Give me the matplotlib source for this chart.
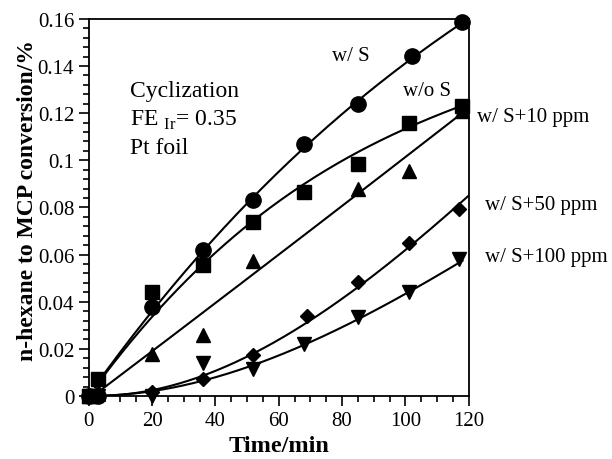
import numpy as np
import matplotlib
matplotlib.use("Agg")
import matplotlib.pyplot as plt
from matplotlib.ticker import MultipleLocator, FuncFormatter

plt.rcParams['font.family'] = ['Liberation Serif', 'DejaVu Serif']
plt.rcParams['mathtext.fontset'] = 'custom'
plt.rcParams['mathtext.rm'] = 'Liberation Serif'

# ---- data (markers) ----
t_ws = [0, 3, 20, 36, 52, 68, 85, 102, 118]
y_ws = [0, 0, 0.0376, 0.0621, 0.0833, 0.107, 0.124, 0.1442, 0.1586]

t_wos = [0, 3, 20, 36, 52, 68, 85, 101, 118]
y_wos = [0, 0.0072, 0.0443, 0.0556, 0.074, 0.0867, 0.0985, 0.1157, 0.1232]

t_10 = [0, 3, 20, 36, 52, 85, 101, 118]
y_10 = [0, 0.002, 0.0178, 0.0259, 0.0574, 0.0879, 0.0956, 0.121]

t_50 = [0, 3, 20, 36, 52, 69, 85, 101, 117]
y_50 = [0, 0, 0.0018, 0.0072, 0.0174, 0.0341, 0.0482, 0.0648, 0.0794]

t_100 = [0, 3, 20, 36, 52, 68, 85, 101, 117]
y_100 = [0, 0, 0, 0.014, 0.0115, 0.0221, 0.0334, 0.0443, 0.0581]

# ---- fitted curves ----
ct_ws = [2, 20, 36, 52, 68, 85, 101, 118]
cy_ws = [0.004, 0.036, 0.062, 0.084, 0.105, 0.125, 0.143, 0.158]
ct_wos = [2, 20, 36, 52, 68, 85, 101, 118]
cy_wos = [0.003, 0.035, 0.056, 0.073, 0.090, 0.103, 0.1155, 0.1225]
ct_10 = [4, 20, 52, 85, 118]
cy_10 = [0.003, 0.0185, 0.0518, 0.086, 0.120]
ct_50 = [0, 20, 36, 52, 68, 85, 101, 120]
cy_50 = [0, 0.003, 0.0086, 0.0171, 0.031, 0.0462, 0.063, 0.085]
ct_100 = [0, 20, 36, 52, 68, 85, 101, 118]
cy_100 = [0, 0.002, 0.0072, 0.0123, 0.0214, 0.0334, 0.0437, 0.0574]

fig = plt.figure(figsize=(6.12, 4.6), dpi=100)
ax = fig.add_axes([0.145, 0.137, 0.621, 0.820])

def smooth(tc, yc, deg):
    p = np.polyfit(tc, yc, deg)
    tt = np.linspace(min(tc), max(tc), 200)
    return tt, np.polyval(p, tt)

for tc, yc, deg in [(ct_ws, cy_ws, 3), (ct_wos, cy_wos, 3), (ct_10, cy_10, 2),
                    (ct_50, cy_50, 3), (ct_100, cy_100, 3)]:
    tt, yy = smooth(tc, yc, deg)
    ax.plot(tt, yy, color='black', lw=1.5, zorder=2)

ax.plot(t_ws, y_ws, 'o', color='black', ms=11, ls='none', zorder=3, clip_on=False)
ax.plot(t_wos, y_wos, 's', color='black', ms=9.5, ls='none', zorder=3, clip_on=False)
ax.plot(t_10, y_10, '^', color='black', ms=10, ls='none', zorder=3, clip_on=False)
ax.plot(t_50, y_50, 'D', color='black', ms=7.5, ls='none', zorder=3, clip_on=False)
ax.plot(t_100, y_100, 'v', color='black', ms=10, ls='none', zorder=3, clip_on=False)

ax.set_xlim(0, 120)
ax.set_ylim(0, 0.16)
ax.xaxis.set_major_locator(MultipleLocator(20))
ax.xaxis.set_minor_locator(MultipleLocator(5))
ax.yaxis.set_major_locator(MultipleLocator(0.02))
ax.yaxis.set_minor_locator(MultipleLocator(0.004))

def yfmt(v, pos):
    if abs(v) < 1e-9:
        return '0'
    return ('%.2f' % v).rstrip('0')
ax.yaxis.set_major_formatter(FuncFormatter(yfmt))

ax.tick_params(which='both', direction='out', top=False, right=False, labelsize=15, width=1.2)
ax.tick_params(which='major', length=7)
ax.tick_params(which='minor', length=4)
for s in ax.spines.values():
    s.set_linewidth(1.3)

ax.set_xlabel('Time/min', fontsize=17.5, fontweight='bold', labelpad=4)
ax.set_ylabel('n-hexane to MCP conversion/%', fontsize=17, fontweight='bold')
ax.yaxis.set_label_coords(-0.134, 0.52)

ax.text(13, 0.1295, 'Cyclization', fontsize=17, va='center')
ax.text(13, 0.1175, r'FE $_{\mathrm{Ir}}$= 0.35', fontsize=17, va='center')
ax.text(13, 0.1055, 'Pt foil', fontsize=17, va='center')

ax.text(82.7, 0.1445, 'w/ S', fontsize=15, va='center', ha='center')
ax.text(106.7, 0.1295, 'w/o S', fontsize=15, va='center', ha='center')
ax.text(122.5, 0.1185, 'w/ S+10 ppm', fontsize=15, va='center', clip_on=False)
ax.text(125, 0.0812, 'w/ S+50 ppm', fontsize=15, va='center', clip_on=False)
ax.text(125, 0.0590, 'w/ S+100 ppm', fontsize=15, va='center', clip_on=False)

fig.savefig('out.png', dpi=100)
